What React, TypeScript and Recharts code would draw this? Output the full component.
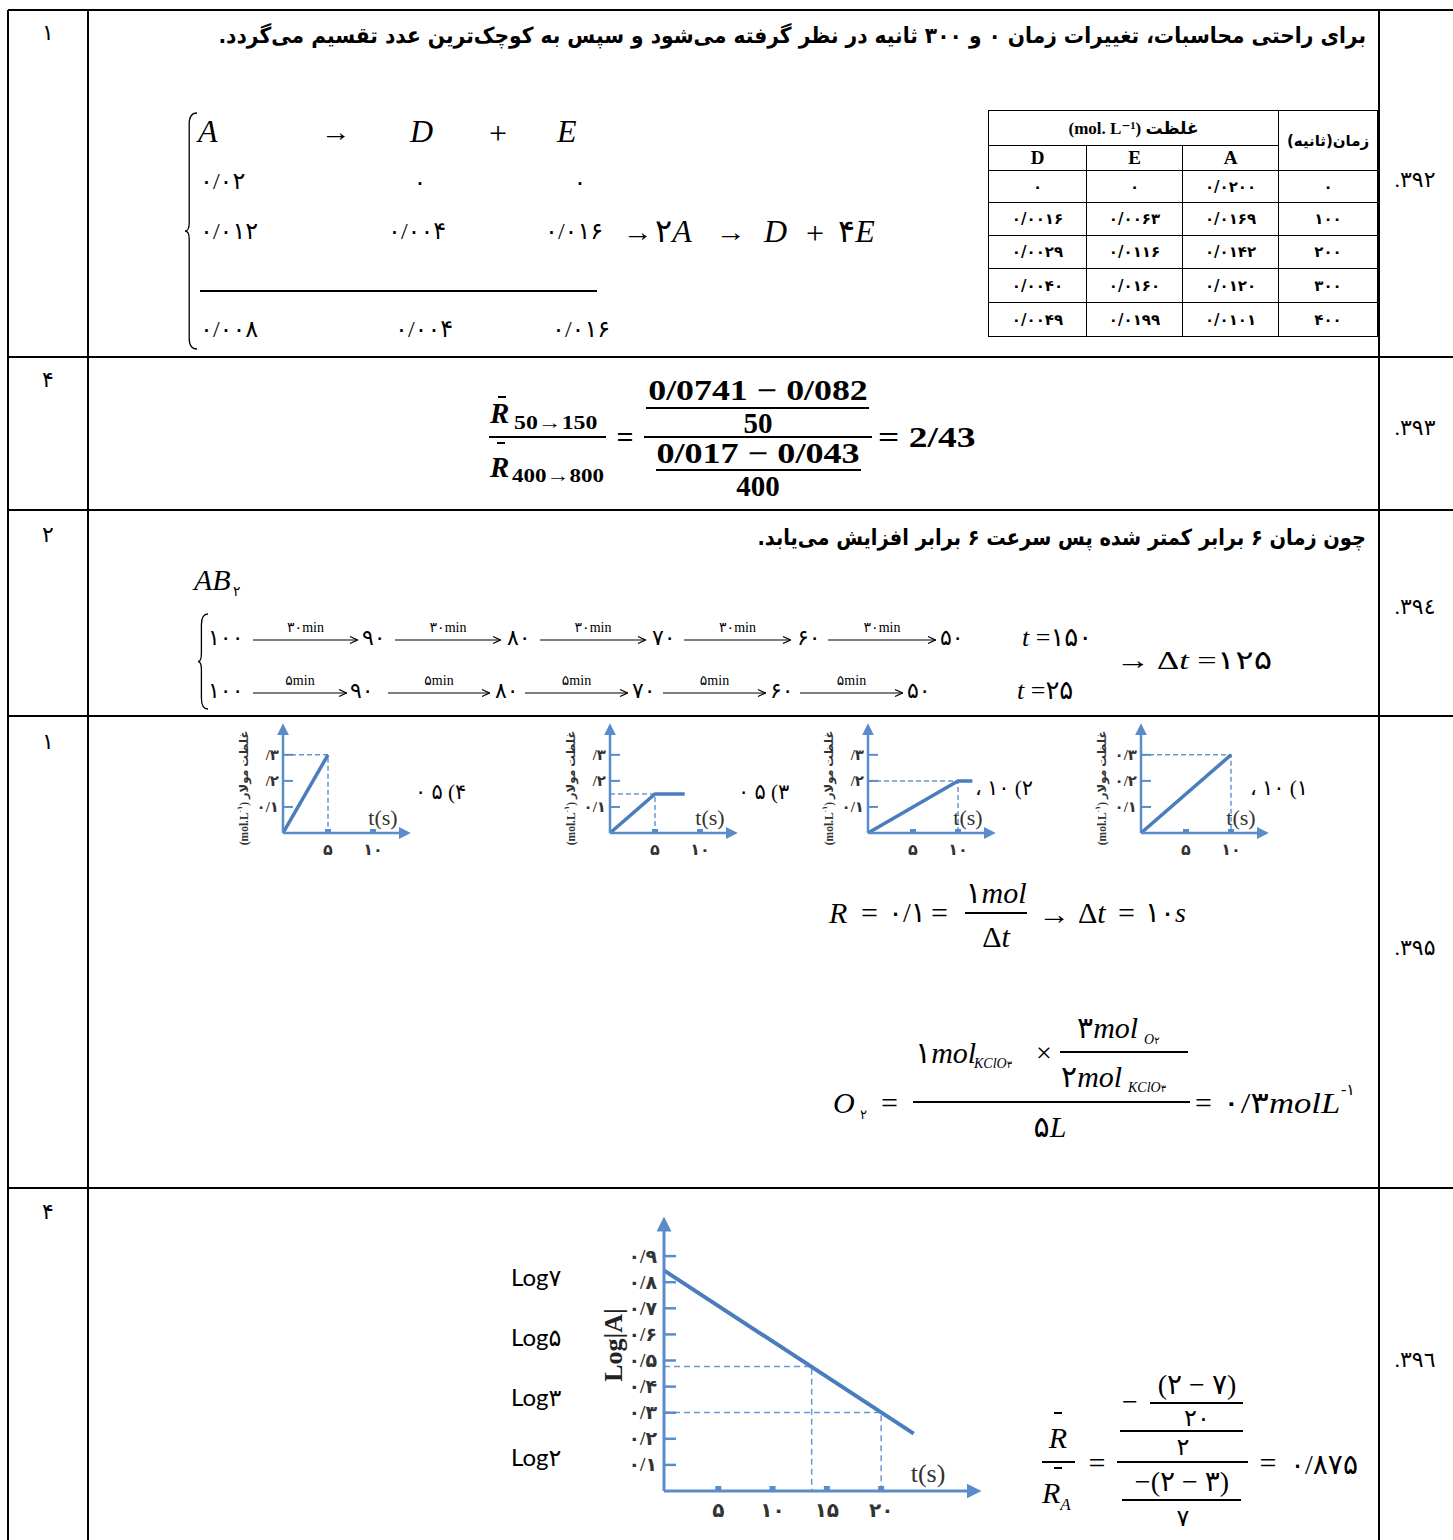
import React, { useLayoutEffect, useRef, useState } from 'react'
import { LineChart, Line, XAxis, YAxis } from 'recharts'

const SERIF = "'Liberation Serif', 'DejaVu Sans', serif"
const FA = "'DejaVu Sans', sans-serif"
const SANS = "Lato, 'DejaVu Sans', sans-serif"
const BLUE = '#4a7dbd'
const AXIS = '#5b8cca'
const DASH = '#6a97d2'

const faDigits = '۰۱۲۳۴۵۶۷۸۹'
const fa = (s: string) => s.replace(/\d/g, (d) => faDigits[+d])

// ---- table of question 392
const tableTimes = ['۰', '۱۰۰', '۲۰۰', '۳۰۰', '۴۰۰']
const colA = ['۰/۰۲۰۰', '۰/۰۱۶۹', '۰/۰۱۴۲', '۰/۰۱۲۰', '۰/۰۱۰۱']
const colE = ['۰', '۰/۰۰۶۳', '۰/۰۱۱۶', '۰/۰۱۶۰', '۰/۰۱۹۹']
const colD = ['۰', '۰/۰۰۱۶', '۰/۰۰۲۹', '۰/۰۰۴۰', '۰/۰۰۴۹']

// ---- mini charts of question 395 (t in s, c in mol/L)
const miniTimeTicks = [5, 10]
const miniConcTicks = [0.1, 0.2, 0.3]
const opt4Line = [{ t: 0, c: 0 }, { t: 5, c: 0.3 }]
const opt4Guide = [{ t: 0, c: 0.3 }, { t: 5, c: 0.3 }, { t: 5, c: 0 }]
const opt3Line = [{ t: 0, c: 0 }, { t: 5, c: 0.15 }, { t: 8.3, c: 0.15 }]
const opt3Guide = [{ t: 0, c: 0.15 }, { t: 5, c: 0.15 }, { t: 5, c: 0 }]
const opt2Line = [{ t: 0, c: 0 }, { t: 10, c: 0.2 }, { t: 11.6, c: 0.2 }]
const opt2Guide = [{ t: 0, c: 0.2 }, { t: 10, c: 0.2 }, { t: 10, c: 0 }]
const opt1Line = [{ t: 0, c: 0 }, { t: 10, c: 0.3 }]
const opt1Guide = [{ t: 0, c: 0.3 }, { t: 10, c: 0.3 }, { t: 10, c: 0 }]

// ---- log chart of question 396
const logTimeTicks = [5, 10, 15, 20]
const logTicks = [0.1, 0.2, 0.3, 0.4, 0.5, 0.6, 0.7, 0.8, 0.9]
const logALine = [{ t: 0, v: 0.845 }, { t: 23, v: 0.22 }]
const log3Guide = [{ t: 0, v: 0.477 }, { t: 13.6, v: 0.477 }, { t: 13.6, v: 0 }]
const log2Guide = [{ t: 0, v: 0.301 }, { t: 20, v: 0.301 }, { t: 20, v: 0 }]
const logLabels = ['Log۷', 'Log۵', 'Log۳', 'Log۲']

const answerKeys = ['۱', '۴', '۲', '۱', '۴']
const answerY = [33, 380, 535, 742, 1212]
const questionNos = ['۳۹۲', '۳۹۳', '۳۹٤', '۳۹۵', '۳۹٦']
const questionY = [180, 428, 607, 948, 1360]

const sentence1 = 'برای راحتی محاسبات، تغییرات زمان ۰ و ۳۰۰ ثانیه در نظر گرفته می\u200cشود و سپس به کوچک\u200cترین عدد تقسیم می\u200cگردد.'
const sentence3 = 'چون زمان ۶ برابر کمتر شده پس سرعت ۶ برابر افزایش می\u200cیابد.'

type TP = {
  x: number
  y: number
  s?: number
  a?: 'l' | 'c' | 'r'
  f?: string
  b?: boolean
  i?: boolean
  w?: number
  dir?: 'rtl' | 'ltr'
  style?: React.CSSProperties
  children: React.ReactNode
}

function T({ x, y, s = 24, a = 'l', f = SERIF, b, i, w, dir, style, children }: TP) {
  const ref = useRef<HTMLDivElement>(null)
  const [k, setK] = useState(1)
  useLayoutEffect(() => {
    if (w && ref.current) {
      const cw = ref.current.scrollWidth
      if (cw > 0) setK(w / cw)
    }
  }, [w])
  const tx = a === 'l' ? '0%' : a === 'c' ? '-50%' : '-100%'
  const origin = a === 'l' ? 'left' : a === 'c' ? 'center' : 'right'
  return (
    <div
      ref={ref}
      dir={dir}
      style={{
        position: 'absolute',
        left: x,
        top: y,
        transform: `translate(${tx},-50%) scaleX(${k})`,
        transformOrigin: `${origin} center`,
        fontSize: s,
        fontFamily: f,
        fontWeight: b ? 700 : 400,
        fontStyle: i ? 'italic' : 'normal',
        lineHeight: 1,
        whiteSpace: 'nowrap',
        ...style,
      }}
    >
      {children}
    </div>
  )
}

const HL = ({ x1, x2, y, t = 1.5 }: { x1: number; x2: number; y: number; t?: number }) => (
  <div style={{ position: 'absolute', left: x1, top: y - t / 2, width: x2 - x1, height: t, background: '#000' }} />
)
const VL = ({ x, y1, y2, t = 1.5 }: { x: number; y1: number; y2: number; t?: number }) => (
  <div style={{ position: 'absolute', left: x - t / 2, top: y1, width: t, height: y2 - y1, background: '#000' }} />
)

function Brace({ x, y, h, w = 13 }: { x: number; y: number; h: number; w?: number }) {
  const m = h / 2
  const c = w * 0.4
  return (
    <svg style={{ position: 'absolute', left: x, top: y }} width={w} height={h}>
      <path
        d={`M${w},1 Q${c},1 ${c},12 L${c},${m - 8} Q${c},${m} 1,${m} Q${c},${m} ${c},${m + 8} L${c},${h - 12} Q${c},${h - 1} ${w},${h - 1}`}
        fill="none"
        stroke="#000"
        strokeWidth={1.3}
      />
    </svg>
  )
}

function Arw({ x1, x2, y, label }: { x1: number; x2: number; y: number; label: string }) {
  const w = x2 - x1
  return (
    <>
      <T x={(x1 + x2) / 2} y={y - 12} s={14} a="c">{label}</T>
      <svg style={{ position: 'absolute', left: x1, top: y - 5 }} width={w} height={10}>
        <line x1={0} y1={5} x2={w} y2={5} stroke="#000" strokeWidth={1.2} />
        <path d={`M${w - 8},1.5 L${w - 0.5},5 L${w - 8},8.5`} fill="none" stroke="#000" strokeWidth={1.2} />
      </svg>
    </>
  )
}

function Arrowhead({ id, size }: { id: string; size: number }) {
  return (
    <defs>
      <marker id={id} viewBox="0 0 10 10" refX={1} refY={5} markerWidth={size} markerHeight={size} markerUnits="userSpaceOnUse" orient="auto-start-reverse">
        <path d="M0,0 L10,5 L0,10 z" fill={AXIS} />
      </marker>
    </defs>
  )
}

const miniFmt = (v: number, partial: boolean) => {
  const s = fa(v.toFixed(1)).replace('.', '/')
  return partial && v > 0.15 ? s.slice(1) : s
}

type MiniProps = {
  left: number
  line: { t: number; c: number }[]
  guide: { t: number; c: number }[]
  partial: boolean
  id: string
}

// left = x of the plot origin minus 45
function MiniChart({ left, line, guide, partial, id }: MiniProps) {
  const YTick = (p: any) => (
    <g>
      <line x1={p.x + 4} x2={p.x + 14} y1={p.y} y2={p.y} stroke={AXIS} strokeWidth={2} />
      <text x={p.x} y={p.y} textAnchor="end" dominantBaseline="central" fontFamily={SERIF} fontSize={15} fontWeight={700} fill="#333">
        {miniFmt(p.payload.value, partial)}
      </text>
    </g>
  )
  const XTick = (p: any) => (
    <g>
      <rect x={p.x - 3} y={p.y - 8} width={6} height={4} fill={AXIS} />
      <text x={p.x} y={p.y + 12} textAnchor="middle" dominantBaseline="central" fontFamily={SERIF} fontSize={16} fontWeight={700} fill="#333">
        {fa(String(p.payload.value))}
      </text>
    </g>
  )
  return (
    <div style={{ position: 'absolute', left: left - 6, top: 718 }}>
      <LineChart width={180} height={147} margin={{ top: 16, right: 12, bottom: 0, left: 0 }}>
        <Arrowhead id={id} size={12} />
        <XAxis
          type="number"
          dataKey="t"
          domain={[0, 13]}
          ticks={miniTimeTicks}
          height={32}
          tickSize={0}
          tickMargin={4}
          tickLine={false}
          axisLine={{ stroke: AXIS, strokeWidth: 2.5, markerEnd: `url(#${id})` }}
          tick={XTick}
          allowDataOverflow
        />
        <YAxis
          type="number"
          domain={[0, 0.38]}
          ticks={miniConcTicks}
          width={51}
          tickSize={0}
          tickMargin={4}
          tickLine={false}
          axisLine={{ stroke: AXIS, strokeWidth: 2.5, markerStart: `url(#${id})` }}
          tick={YTick}
          allowDataOverflow
        />
        <Line data={guide} dataKey="c" type="linear" stroke={DASH} strokeWidth={1.5} strokeDasharray="5 3" dot={false} isAnimationActive={false} />
        <Line data={line} dataKey="c" type="linear" stroke={BLUE} strokeWidth={3.5} dot={false} isAnimationActive={false} />
        <text x={12} y={70} transform="rotate(-90, 12, 70)" textAnchor="middle" dominantBaseline="central" fontFamily={SERIF} fontSize={11.5} fontWeight={700} fill="#333">
          (mol.L<tspan dy={-4} fontSize={7}>-۱</tspan><tspan dy={4}>) غلظت مولار</tspan>
        </text>
        <text x={151} y={99} textAnchor="middle" dominantBaseline="central" fontFamily={SERIF} fontSize={22} fill="#333">
          t(s)
        </text>
      </LineChart>
    </div>
  )
}

function LogChart() {
  const YTick = (p: any) => (
    <g>
      <line x1={p.x + 7} x2={p.x + 19} y1={p.y} y2={p.y} stroke={AXIS} strokeWidth={2.5} />
      <text x={p.x} y={p.y} textAnchor="end" dominantBaseline="central" fontFamily={SERIF} fontSize={19} fontWeight={700} fill="#333">
        {fa(p.payload.value.toFixed(1)).replace('.', '/')}
      </text>
    </g>
  )
  const XTick = (p: any) => (
    <g>
      <rect x={p.x - 3} y={p.y - 12} width={6} height={5} fill={AXIS} />
      <text x={p.x} y={p.y + 12} textAnchor="middle" dominantBaseline="central" fontFamily={SERIF} fontSize={20} fontWeight={700} fill="#333">
        {fa(String(p.payload.value))}
      </text>
    </g>
  )
  return (
    <div style={{ position: 'absolute', left: 594, top: 1214 }}>
      <LineChart width={390} height={317} margin={{ top: 16, right: 16, bottom: 0, left: 0 }}>
        <Arrowhead id="logArrow" size={15} />
        <XAxis
          type="number"
          dataKey="t"
          domain={[0, 28]}
          ticks={logTimeTicks}
          height={40}
          tickSize={0}
          tickMargin={7}
          tickLine={false}
          axisLine={{ stroke: AXIS, strokeWidth: 3, markerEnd: 'url(#logArrow)' }}
          tick={XTick}
          allowDataOverflow
        />
        <YAxis
          type="number"
          domain={[0, 1]}
          ticks={logTicks}
          width={70}
          tickSize={0}
          tickMargin={7}
          tickLine={false}
          axisLine={{ stroke: AXIS, strokeWidth: 3, markerStart: 'url(#logArrow)' }}
          tick={YTick}
          allowDataOverflow
        />
        <Line data={log3Guide} dataKey="v" type="linear" stroke={DASH} strokeWidth={1.5} strokeDasharray="6 4" dot={false} isAnimationActive={false} />
        <Line data={log2Guide} dataKey="v" type="linear" stroke={DASH} strokeWidth={1.5} strokeDasharray="6 4" dot={false} isAnimationActive={false} />
        <Line data={logALine} dataKey="v" type="linear" stroke={BLUE} strokeWidth={4} dot={false} isAnimationActive={false} />
        <text x={19} y={131} transform="rotate(-90, 19, 131)" textAnchor="middle" dominantBaseline="central" fontFamily={SERIF} fontSize={26} fontWeight={700} fill="#222">
          Log|A|
        </text>
        <text x={334} y={259} textAnchor="middle" dominantBaseline="central" fontFamily={SERIF} fontSize={26} fill="#333">
          t(s)
        </text>
      </LineChart>
    </div>
  )
}

function DataTable() {
  const colW = [98, 96, 96, 99]
  const cell: React.CSSProperties = {
    border: '1.5px solid #000',
    padding: 0,
    textAlign: 'center',
    fontFamily: FA,
    fontWeight: 700,
    fontSize: 15,
  }
  return (
    <table style={{ position: 'absolute', left: 988, top: 110, width: 389, borderCollapse: 'collapse', tableLayout: 'fixed' }}>
      <colgroup>
        {colW.map((w, i) => (
          <col key={i} style={{ width: w }} />
        ))}
      </colgroup>
      <tbody>
        <tr style={{ height: 35 }}>
          <td colSpan={3} style={{ ...cell, fontFamily: SERIF, fontSize: 17, lineHeight: 1 }} dir="rtl">
            غلظت (mol. L⁻¹)
          </td>
          <td rowSpan={2} style={{ ...cell, fontSize: 15 }} dir="rtl">
            زمان(ثانیه)
          </td>
        </tr>
        <tr style={{ height: 25 }}>
          {['D', 'E', 'A'].map((h) => (
            <td key={h} style={{ ...cell, fontFamily: SERIF, fontSize: 19 }}>
              {h}
            </td>
          ))}
        </tr>
        {tableTimes.map((t, r) => (
          <tr key={t} style={{ height: r === 0 ? 32 : r < 3 ? 33 : 34 }}>
            <td style={cell}>{colD[r]}</td>
            <td style={cell}>{colE[r]}</td>
            <td style={cell}>{colA[r]}</td>
            <td style={cell}>{t}</td>
          </tr>
        ))}
      </tbody>
    </table>
  )
}

export default function App() {
  return (
    <div style={{ position: 'absolute', left: 0, top: 0, width: 1453, height: 1540, background: '#fff', overflow: 'hidden', fontFamily: SERIF, color: '#000' }}>
      {/* grid */}
      {[10, 357, 510, 716, 1188].map((y) => (
        <HL key={y} x1={8} x2={1453} y={y} t={y === 10 ? 2 : 1.5} />
      ))}
      {[8, 88, 1379].map((x) => (
        <VL key={x} x={x} y1={10} y2={1540} />
      ))}
      {answerKeys.map((k, i) => (
        <T key={i} x={48} y={answerY[i]} s={22} a="c">{k}</T>
      ))}
      {questionNos.map((q, i) => (
        <T key={i} x={1415} y={questionY[i]} s={22} a="c" dir="rtl">{q + '.'}</T>
      ))}

      {/* 392 */}
      <T x={1366} y={36} s={22} a="r" f={FA} b dir="rtl" w={1148}>{sentence1}</T>
      <Brace x={184} y={112} h={238} />
      <T x={198} y={131} s={32} i>A</T>
      <T x={321} y={133} s={26} w={30}>→</T>
      <T x={410} y={131} s={32} i>D</T>
      <T x={489} y={133} s={32}>+</T>
      <T x={557} y={131} s={32} i>E</T>
      <T x={200} y={181} s={24}>۰/۰۲</T>
      <T x={420} y={182} s={24} a="c">۰</T>
      <T x={580} y={182} s={24} a="c">۰</T>
      <T x={200} y={231} s={24}>۰/۰۱۲</T>
      <T x={388} y={231} s={24}>۰/۰۰۴</T>
      <T x={545} y={231} s={24}>۰/۰۱۶</T>
      <T x={623} y={233} s={26} w={30}>→</T>
      <T x={655} y={231} s={32}>۲<i>A</i></T>
      <T x={716} y={233} s={26} w={30}>→</T>
      <T x={764} y={231} s={32} i>D</T>
      <T x={806} y={233} s={32}>+</T>
      <T x={838} y={231} s={32}>۴<i>E</i></T>
      <HL x1={200} x2={597} y={291} t={1.2} />
      <T x={200} y={329} s={24}>۰/۰۰۸</T>
      <T x={395} y={329} s={24}>۰/۰۰۴</T>
      <T x={552} y={329} s={24}>۰/۰۱۶</T>
      <DataTable />

      {/* 393 */}
      <HL x1={498} x2={506} y={397} t={2} />
      <T x={490} y={413} s={29} b i>R</T>
      <T x={514} y={422} s={19} b w={84}>50→150</T>
      <HL x1={489} x2={606} y={437} t={2} />
      <HL x1={497} x2={505} y={443} t={2} />
      <T x={490} y={467} s={29} b i>R</T>
      <T x={512} y={475} s={19} b w={92}>400→800</T>
      <T x={625} y={437} s={30} b a="c">=</T>
      <T x={758} y={390} s={29} b a="c" w={220}>0/0741 − 0/082</T>
      <HL x1={646} x2={869} y={408} t={2} />
      <T x={758} y={423} s={29} b a="c">50</T>
      <HL x1={644} x2={872} y={437} t={2} />
      <T x={758} y={453} s={29} b a="c" w={203}>0/017 − 0/043</T>
      <HL x1={656} x2={861} y={470} t={2} />
      <T x={758} y={486} s={29} b a="c">400</T>
      <T x={878} y={437} s={29} b w={97}>= 2/43</T>

      {/* 394 */}
      <T x={1366} y={538} s={22} a="r" f={FA} b dir="rtl" w={609}>{sentence3}</T>
      <T x={194} y={580} s={30} i>AB</T>
      <T x={233} y={592} s={14}>۲</T>
      <Brace x={197} y={613} h={97} w={11} />
      <T x={208} y={638} s={22}>۱۰۰</T>
      <Arw x1={253} x2={358} y={640} label="۳۰min" />
      <T x={362} y={638} s={22}>۹۰</T>
      <Arw x1={395} x2={501} y={640} label="۳۰min" />
      <T x={507} y={638} s={22}>۸۰</T>
      <Arw x1={540} x2={646} y={640} label="۳۰min" />
      <T x={652} y={638} s={22}>۷۰</T>
      <Arw x1={684} x2={791} y={640} label="۳۰min" />
      <T x={797} y={638} s={22}>۶۰</T>
      <Arw x1={828} x2={936} y={640} label="۳۰min" />
      <T x={940} y={638} s={22}>۵۰</T>
      <T x={1022} y={638} s={26}><i>t</i> =۱۵۰</T>
      <T x={208} y={691} s={22}>۱۰۰</T>
      <Arw x1={253} x2={347} y={693} label="۵min" />
      <T x={350} y={691} s={22}>۹۰</T>
      <Arw x1={388} x2={490} y={693} label="۵min" />
      <T x={495} y={691} s={22}>۸۰</T>
      <Arw x1={525} x2={628} y={693} label="۵min" />
      <T x={632} y={691} s={22}>۷۰</T>
      <Arw x1={663} x2={766} y={693} label="۵min" />
      <T x={770} y={691} s={22}>۶۰</T>
      <Arw x1={800} x2={903} y={693} label="۵min" />
      <T x={907} y={691} s={22}>۵۰</T>
      <T x={1017} y={691} s={26}><i>t</i> =۲۵</T>
      <T x={1116} y={661} s={26} w={156}>→ Δ<i>t</i> =۱۲۵</T>

      {/* 395 */}
      <MiniChart left={238} line={opt4Line} guide={opt4Guide} partial id="a4" />
      <MiniChart left={565} line={opt3Line} guide={opt3Guide} partial id="a3" />
      <MiniChart left={823} line={opt2Line} guide={opt2Guide} partial id="a2" />
      <MiniChart left={1096} line={opt1Line} guide={opt1Guide} partial={false} id="a1" />
      <T x={415} y={792} s={21} style={{ unicodeBidi: 'bidi-override', direction: 'ltr' }}>۰ ۵    (۴</T>
      <T x={738} y={792} s={21} style={{ unicodeBidi: 'bidi-override', direction: 'ltr' }}>۰ ۵ (۳</T>
      <T x={975} y={788} s={21} style={{ unicodeBidi: 'bidi-override', direction: 'ltr' }}>، ۱۰ (۲</T>
      <T x={1250} y={788} s={21} style={{ unicodeBidi: 'bidi-override', direction: 'ltr' }}>، ۱۰  (۱</T>

      <T x={829} y={913} s={30} i>R</T>
      <T x={861} y={913} s={30}>=</T>
      <T x={888} y={913} s={28}>۰/۱</T>
      <T x={931} y={913} s={30}>=</T>
      <T x={996} y={893} s={30} a="c">۱<i>mol</i></T>
      <HL x1={965} x2={1027} y={913} t={1.3} />
      <T x={996} y={937} s={30} a="c">Δ<i>t</i></T>
      <T x={1038} y={915} s={28} w={32}>→</T>
      <T x={1078} y={913} s={30}>Δ<i>t</i></T>
      <T x={1118} y={913} s={30}>=</T>
      <T x={1145} y={913} s={28}>۱۰<i>s</i></T>

      <T x={833} y={1103} s={30} i>O</T>
      <T x={860} y={1114} s={13}>۲</T>
      <T x={881} y={1103} s={30}>=</T>
      <HL x1={913} x2={1190} y={1102} t={1.3} />
      <T x={915} y={1053} s={30}>۱<i>mol</i></T>
      <T x={974} y={1064} s={14} i>KClO<span style={{ fontStyle: 'normal', fontSize: 10 }}>۳</span></T>
      <T x={1036} y={1053} s={28}>×</T>
      <T x={1077} y={1028} s={30}>۳<i>mol</i></T>
      <T x={1144} y={1040} s={14} i>O<span style={{ fontStyle: 'normal', fontSize: 10 }}>۲</span></T>
      <HL x1={1060} x2={1188} y={1052} t={1.3} />
      <T x={1061} y={1077} s={30}>۲<i>mol</i></T>
      <T x={1128} y={1088} s={14} i>KClO<span style={{ fontStyle: 'normal', fontSize: 10 }}>۳</span></T>
      <T x={1050} y={1127} s={30} a="c">۵<i>L</i></T>
      <T x={1195} y={1103} s={30}>=</T>
      <T x={1222} y={1103} s={30} w={118}>۰/۳<i>molL</i></T>
      <T x={1341} y={1090} s={16}>-۱</T>

      {/* 396 */}
      {logLabels.map((l, i) => (
        <T key={l} x={511} y={1277 + i * 60} s={24} f={SANS}>{l}</T>
      ))}
      <LogChart />
      <HL x1={1054} x2={1062} y={1413} t={1.5} />
      <T x={1058} y={1438} s={30} a="c" i>R</T>
      <HL x1={1042} x2={1075} y={1462} t={2} />
      <HL x1={1054} x2={1062} y={1468} t={1.5} />
      <T x={1042} y={1495} s={30} i>R<sub style={{ fontSize: 17 }}>A</sub></T>
      <T x={1097} y={1463} s={30} a="c">=</T>
      <T x={1130} y={1402} s={28} a="c">−</T>
      <T x={1197} y={1385} s={28} a="c">(۲ − ۷)</T>
      <HL x1={1150} x2={1243} y={1403} t={2} />
      <T x={1197} y={1418} s={24} a="c">۲۰</T>
      <HL x1={1120} x2={1243} y={1431} t={2} />
      <T x={1183} y={1447} s={24} a="c">۲</T>
      <HL x1={1117} x2={1248} y={1462} t={2} />
      <T x={1182} y={1482} s={28} a="c">−(۲ − ۳)</T>
      <HL x1={1122} x2={1241} y={1500} t={2} />
      <T x={1183} y={1518} s={24} a="c">۷</T>
      <T x={1268} y={1463} s={30} a="c">=</T>
      <T x={1290} y={1465} s={28}>۰/۸۷۵</T>
    </div>
  )
}
